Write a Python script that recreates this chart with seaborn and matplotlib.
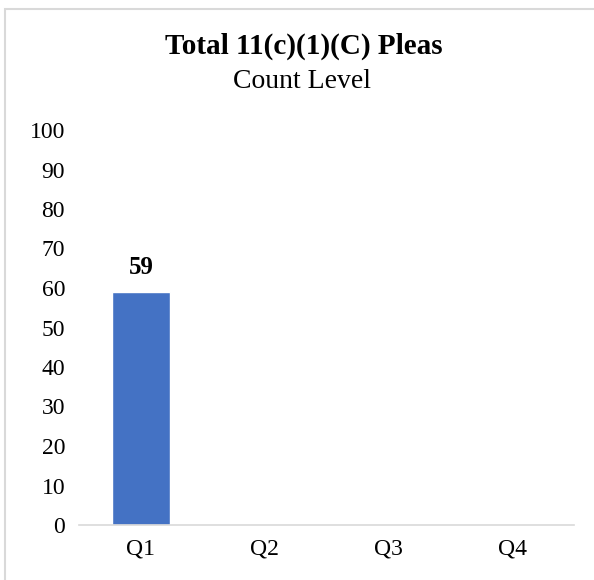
import matplotlib
matplotlib.use("Agg")
import matplotlib.pyplot as plt
import seaborn as sns
import pandas as pd
from matplotlib.patches import Rectangle

categories = ["Q1", "Q2", "Q3", "Q4"]
values = [59, 0, 0, 0]
labels = ["59", "", "", ""]
yticks = [0, 10, 20, 30, 40, 50, 60, 70, 80, 90, 100]

sns.set_theme(style="white")
plt.rcParams['font.family'] = ['Liberation Serif', 'DejaVu Serif']
plt.rcParams['text.color'] = 'black'

df = pd.DataFrame({"Quarter": categories, "Count": values})

fig = plt.figure(figsize=(5.94, 5.8), dpi=100)
ax = fig.add_axes([79/594, 1-525/580, (574-79)/594, (525-130)/580])
sns.barplot(data=df, x="Quarter", y="Count", color="#4472C4", width=0.47,
            saturation=1, ax=ax)
ax.set_ylim(0, 100)
ax.set_yticks(yticks)
ax.set_xlabel("")
ax.set_ylabel("")
for s in ["left", "top", "right"]:
    ax.spines[s].set_visible(False)
ax.spines["bottom"].set_color("#d9d9d9")
ax.spines["bottom"].set_linewidth(1.2)
ax.tick_params(axis="both", length=0, labelsize=17, colors="black")
ax.tick_params(axis="y", pad=10)
ax.tick_params(axis="x", pad=10)

for i, (v, l) in enumerate(zip(values, labels)):
    if l:
        ax.annotate(l, (i, v), xytext=(0, 9), textcoords="offset points",
                    ha="center", va="bottom", fontsize=18, fontweight="bold",
                    color="black")

fig.text(304/594, 1-46/580, "Total 11(c)(1)(C) Pleas", ha="center", va="center",
         fontsize=21, fontweight="bold", color="black")
fig.text(302/594, 1-81/580, "Count Level", ha="center", va="center", fontsize=20,
         color="black")

fig.patches.append(Rectangle((5/594, -0.1), 1.2, 1 - 9/580 + 0.1,
                             transform=fig.transFigure, fill=False,
                             edgecolor="#d9d9d9", linewidth=1.5))
fig.savefig("out.png", dpi=100)
